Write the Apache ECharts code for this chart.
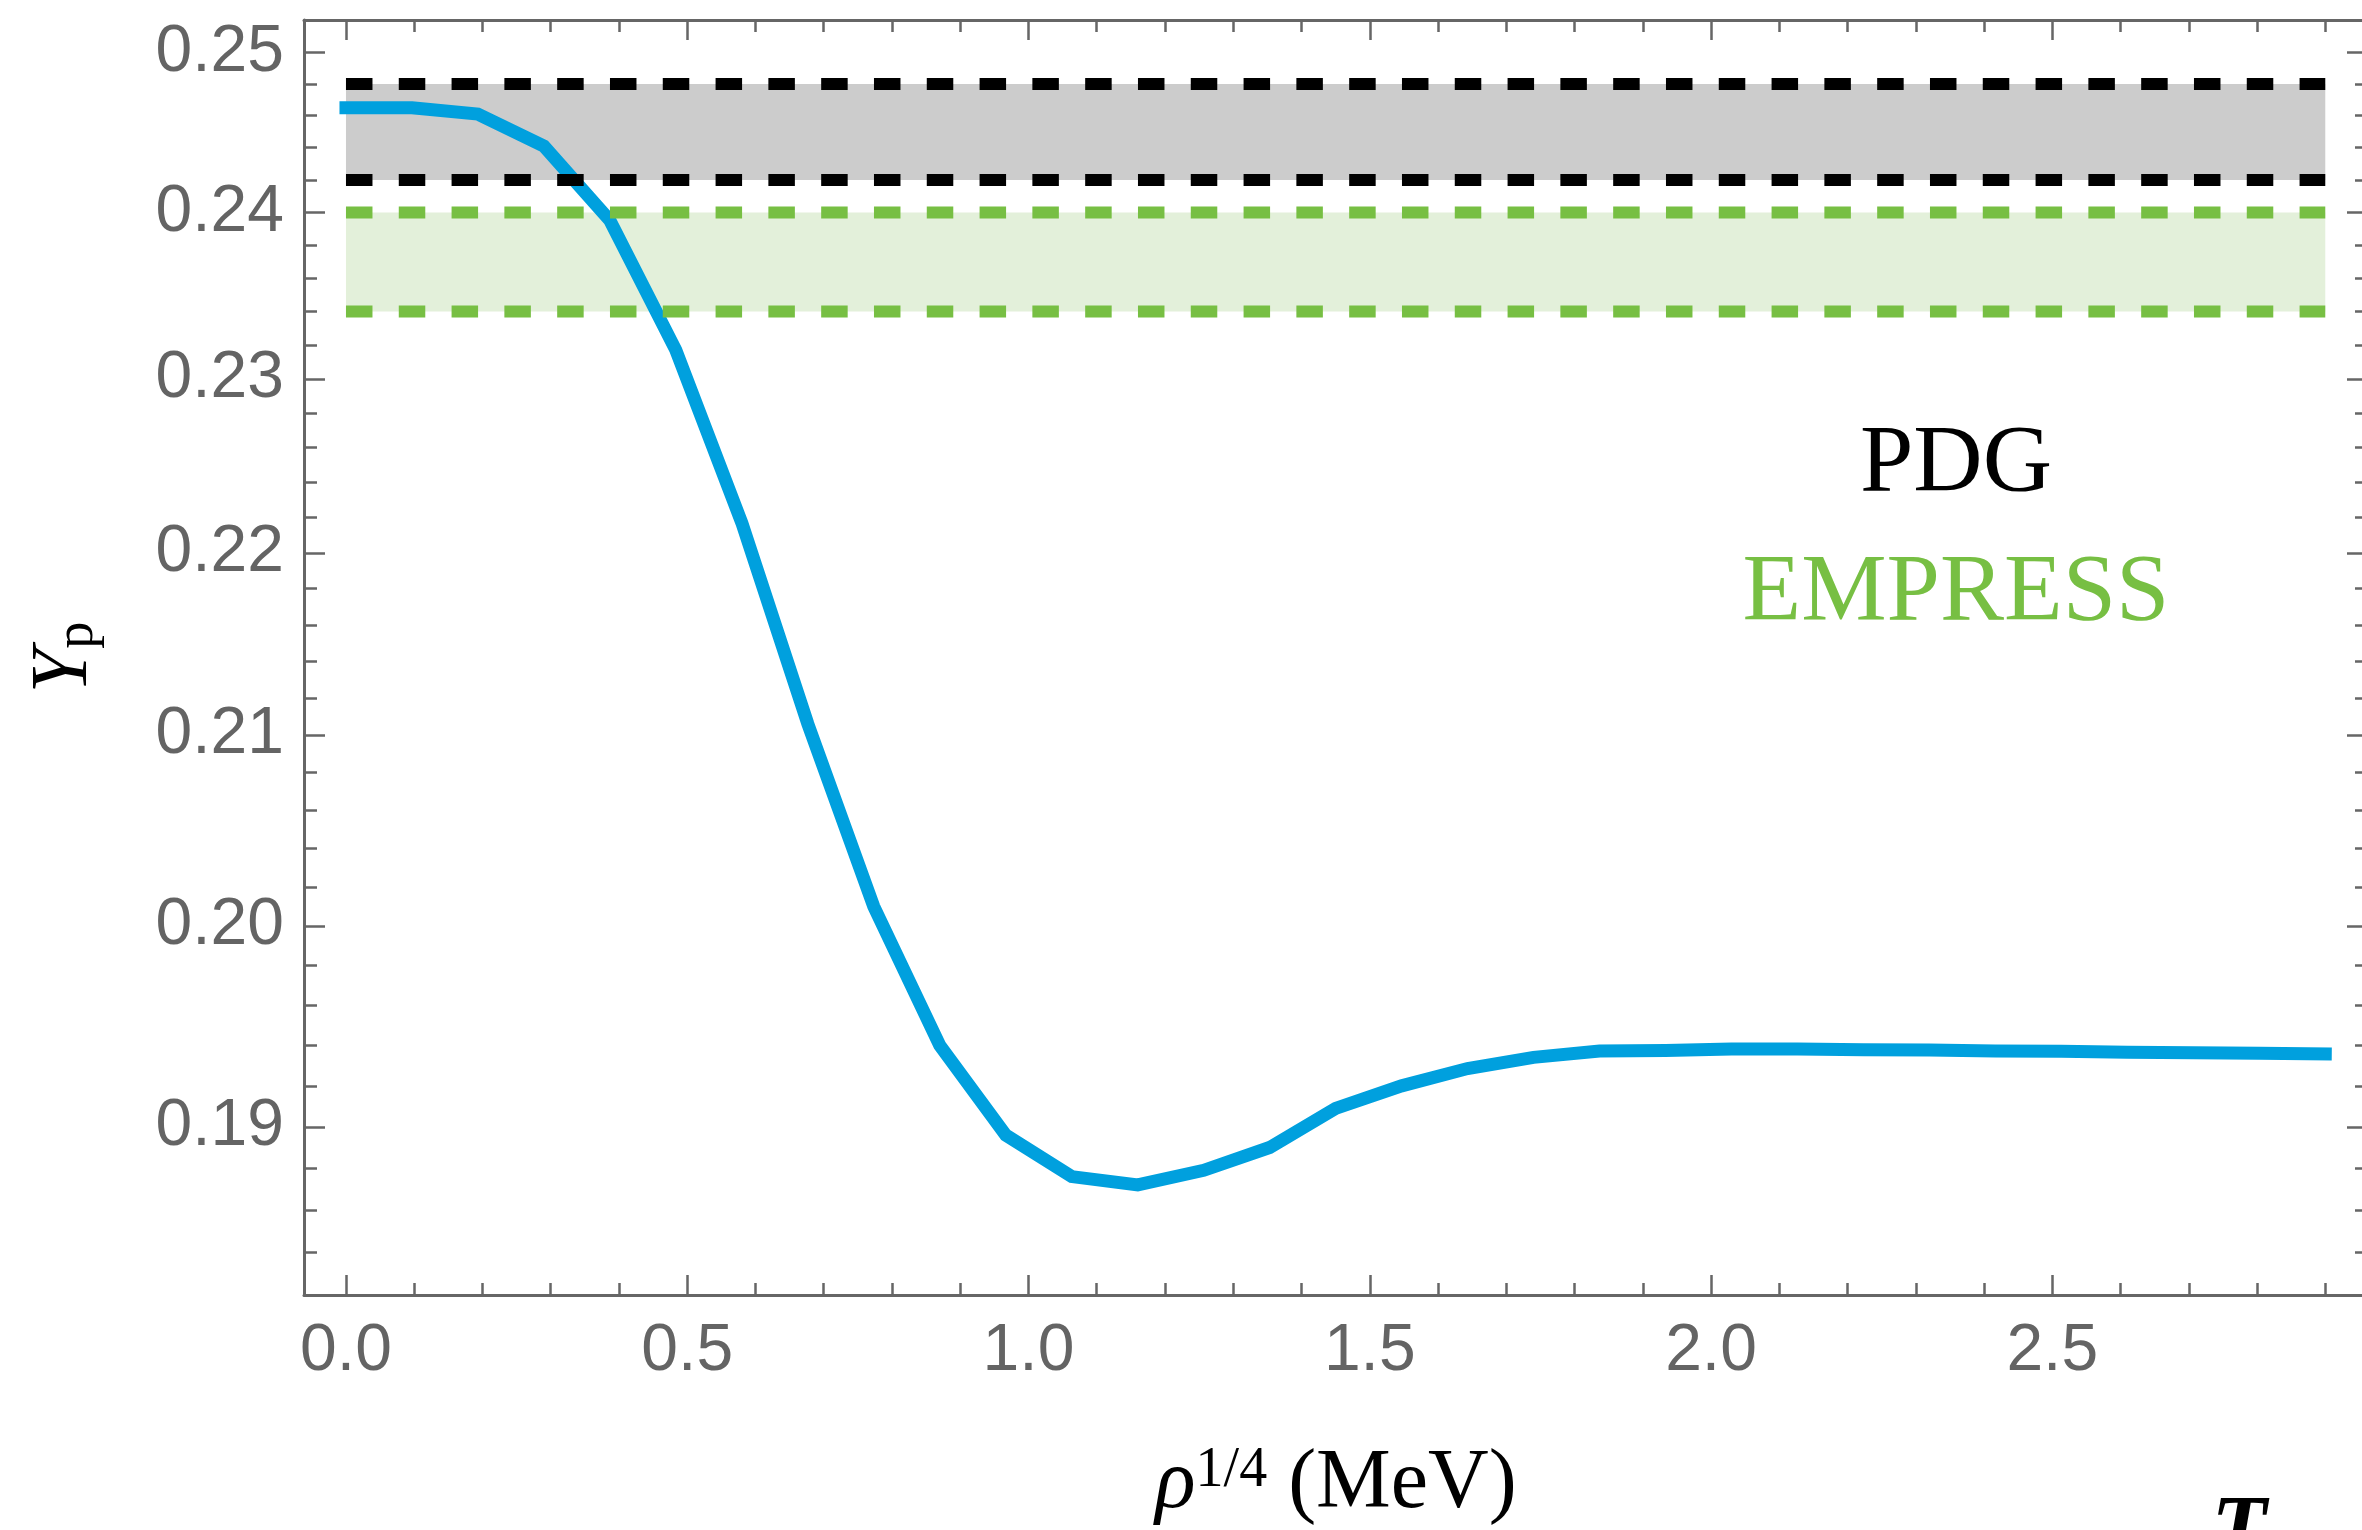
<!DOCTYPE html>
<html>
<head>
<meta charset="utf-8">
<script src="https://cdn.jsdelivr.net/npm/echarts@6/dist/echarts.min.js"></script>
<style>
html,body{margin:0;padding:0;background:#ffffff;}
#chart{width:2362px;height:1530px;}
</style>
</head>
<body>
<div id="chart"></div>
<script>
// ---- data ----
const rho = [0, 0.0967, 0.1933, 0.29, 0.3867, 0.4833, 0.58, 0.6767, 0.7733, 0.87,
             0.9667, 1.0633, 1.16, 1.2567, 1.3533, 1.45, 1.5467, 1.6433, 1.74, 1.8367,
             1.9333, 2.03, 2.1267, 2.2233, 2.32, 2.4167, 2.5133, 2.61, 2.7067, 2.8033, 2.9];
const Yp = [0.2465, 0.2465, 0.2461, 0.2441, 0.2395, 0.2317, 0.2217, 0.2106, 0.2010, 0.1940,
            0.1896, 0.1876, 0.1872, 0.1879, 0.1890, 0.1909, 0.1920, 0.19285, 0.1934, 0.19372,
            0.19374, 0.19381, 0.19381, 0.19378, 0.19376, 0.19372, 0.1937, 0.19366, 0.19363, 0.1936, 0.19357];
const bandX = [0, 2.9];
const pdgBand = [0.242, 0.248];
const empressBand = [0.234, 0.240];
const bandLabels = ['PDG', 'EMPRESS'];
const xMajorTicks = [0, 0.5, 1.0, 1.5, 2.0, 2.5];
const xMinorTicks = [0.1, 0.2, 0.3, 0.4, 0.6, 0.7, 0.8, 0.9, 1.1, 1.2, 1.3, 1.4,
                     1.6, 1.7, 1.8, 1.9, 2.1, 2.2, 2.3, 2.4, 2.6, 2.7, 2.8, 2.9];
const yMajorTicks = [0.19, 0.20, 0.21, 0.22, 0.23, 0.24, 0.25];
const yMinorTicks = [0.184, 0.186, 0.188, 0.192, 0.194, 0.196, 0.198, 0.202, 0.204, 0.206, 0.208,
                     0.212, 0.214, 0.216, 0.218, 0.222, 0.224, 0.226, 0.228, 0.232, 0.234, 0.236,
                     0.238, 0.242, 0.244, 0.246, 0.248];
const xRange = [-0.0615, 2.9626];
const yRange = [0.18201, 0.25209];

// ---- styling ----
const FRAME = '#666666';
const TICKW = 2.5;
const GRID = {left: 304, top: 20, width: 2064, height: 1275, containLabel: false, outerBoundsMode: 'none'};
const labelFont = {color: '#646464', fontFamily: '"Liberation Sans", Arial, sans-serif', fontSize: 66};
const SERIF = '"Liberation Serif", "Times New Roman", serif';

function xAxisDef(gridIndex, position, ticks, len, opts) {
  return Object.assign({
    type: 'value', gridIndex, position, min: xRange[0], max: xRange[1],
    axisLine: {show: true, onZero: false, lineStyle: {color: FRAME, width: 3}},
    axisTick: {show: true, inside: true, length: len, customValues: ticks, lineStyle: {color: FRAME, width: TICKW}},
    axisLabel: {show: false},
    splitLine: {show: false}
  }, opts || {});
}
function yAxisDef(gridIndex, position, ticks, len, opts) {
  return Object.assign({
    type: 'log', logBase: 10, gridIndex, position, min: yRange[0], max: yRange[1],
    axisLine: {show: true, onZero: false, lineStyle: {color: FRAME, width: 3}},
    axisTick: {show: true, inside: true, length: len, customValues: ticks, lineStyle: {color: FRAME, width: TICKW}},
    axisLabel: {show: false},
    splitLine: {show: false}
  }, opts || {});
}

const curveData = rho.map((x, i) => [x, Yp[i]]);
const lineAt = v => bandX.map(x => [x, v]);
const dash = (color) => ({color: color, width: 12, type: [26.5, 26.3], cap: 'butt'});

const option = {
  backgroundColor: '#ffffff',
  animation: false,
  grid: [Object.assign({}, GRID), Object.assign({}, GRID)],
  xAxis: [
    xAxisDef(0, 'bottom', xMajorTicks, 20, {
      axisLabel: Object.assign({show: true, customValues: xMajorTicks, margin: 24,
        formatter: v => Number(v).toFixed(1)}, labelFont),
      name: '{r|ρ}{s|1/4}{m| (MeV)}',
      nameLocation: 'middle', nameGap: 148,
      nameTextStyle: {rich: {
        r: {fontFamily: SERIF, fontStyle: 'italic', fontSize: 84, lineHeight: 84, color: '#000'},
        s: {fontFamily: SERIF, fontSize: 56, lineHeight: 30, verticalAlign: 'top', color: '#000'},
        m: {fontFamily: SERIF, fontSize: 84, lineHeight: 84, color: '#000'}
      }}
    }),
    xAxisDef(0, 'top', xMajorTicks, 20),
    xAxisDef(1, 'bottom', xMinorTicks, 12, {axisLine: {show: false, onZero: false}}),
    xAxisDef(1, 'top', xMinorTicks, 12, {axisLine: {show: false, onZero: false}})
  ],
  yAxis: [
    yAxisDef(0, 'left', yMajorTicks, 21, {
      axisLabel: Object.assign({show: true, customValues: yMajorTicks, margin: 20,
        formatter: v => Number(v).toFixed(2)}, labelFont),
      name: '{y|Y}{p|p}',
      nameLocation: 'middle', nameRotate: 90, nameGap: 199,
      nameTextStyle: {rich: {
        y: {fontFamily: SERIF, fontStyle: 'italic', fontSize: 80, lineHeight: 80, color: '#000'},
        p: {fontFamily: SERIF, fontSize: 54, lineHeight: 14, verticalAlign: 'bottom', color: '#000'}
      }}
    }),
    yAxisDef(0, 'right', yMajorTicks, 21),
    yAxisDef(1, 'left', yMinorTicks, 13, {axisLine: {show: false, onZero: false}}),
    yAxisDef(1, 'right', yMinorTicks, 13, {axisLine: {show: false, onZero: false}})
  ],
  series: [
    {
      name: 'Yp', type: 'line', xAxisIndex: 0, yAxisIndex: 0, z: 3,
      data: curveData, showSymbol: false, symbol: 'none', smooth: false,
      lineStyle: {color: '#00a0de', width: 13, join: 'miter', cap: 'square'},
      silent: true
    },
    {
      name: bandLabels[0] + ' upper', type: 'line', xAxisIndex: 0, yAxisIndex: 0, z: 4,
      data: lineAt(pdgBand[1]), showSymbol: false, symbol: 'none', lineStyle: dash('#000000'), silent: true,
      markArea: {silent: true, z: 1, itemStyle: {color: '#cccccc'},
        data: [[{coord: [bandX[0], pdgBand[0]]}, {coord: [bandX[1], pdgBand[1]]}]]}
    },
    {
      name: bandLabels[0] + ' lower', type: 'line', xAxisIndex: 0, yAxisIndex: 0, z: 4,
      data: lineAt(pdgBand[0]), showSymbol: false, symbol: 'none', lineStyle: dash('#000000'), silent: true
    },
    {
      name: bandLabels[1] + ' upper', type: 'line', xAxisIndex: 0, yAxisIndex: 0, z: 4,
      data: lineAt(empressBand[1]), showSymbol: false, symbol: 'none', lineStyle: dash('#77bf43'), silent: true,
      markArea: {silent: true, z: 1, itemStyle: {color: '#e3f0da'},
        data: [[{coord: [bandX[0], empressBand[0]]}, {coord: [bandX[1], empressBand[1]]}]]}
    },
    {
      name: bandLabels[1] + ' lower', type: 'line', xAxisIndex: 0, yAxisIndex: 0, z: 4,
      data: lineAt(empressBand[0]), showSymbol: false, symbol: 'none', lineStyle: dash('#77bf43'), silent: true
    }
  ],
  graphic: [
    {type: 'text', x: 1956, y: 466, z: 10, style: {text: bandLabels[0], font: '96px "Liberation Serif", serif', fill: '#000000', align: 'center', verticalAlign: 'middle'}},
    {type: 'text', x: 1956, y: 595, z: 10, style: {text: bandLabels[1], font: '96px "Liberation Serif", serif', fill: '#77bf43', align: 'center', verticalAlign: 'middle'}},
    {type: 'text', x: 2239, y: 1535, z: 10, style: {text: 'T', font: 'italic bold 90px "Liberation Serif", serif', fill: '#000000', align: 'center', verticalAlign: 'middle'}}
  ]
};

const chart = echarts.init(document.getElementById('chart'), null, {renderer: 'canvas'});
chart.setOption(option);
</script>
</body>
</html>
